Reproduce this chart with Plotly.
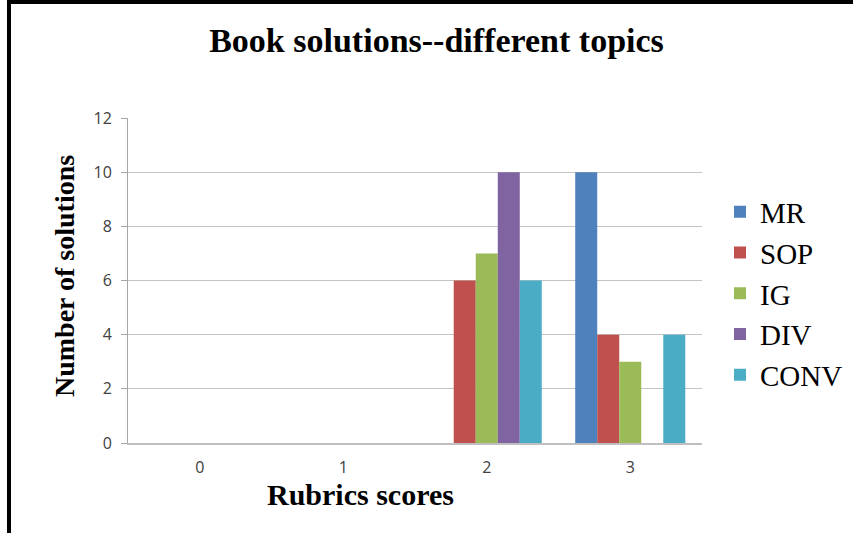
import plotly.graph_objects as go

categories = ["0", "1", "2", "3"]
MR = [0, 0, 0, 10]
SOP = [0, 0, 6, 4]
IG = [0, 0, 7, 3]
DIV = [0, 0, 10, 0]
CONV = [0, 0, 6, 4]
y_ticks = [0, 2, 4, 6, 8, 10, 12]

series = [
    ("MR", MR, "#4F81BD"),
    ("SOP", SOP, "#C0504D"),
    ("IG", IG, "#9BBB59"),
    ("DIV", DIV, "#8064A2"),
    ("CONV", CONV, "#4BACC6"),
]

fig = go.Figure()
for name, vals, col in series:
    fig.add_trace(go.Bar(
        x=categories, y=vals, name=name, legendgroup=name,
        marker=dict(color=col, line=dict(width=0)),
    ))

W, H = 853, 533
L, R, T, B = 128, 151, 118, 90
pw, ph = W - L - R, H - T - B

def px(x):
    return (x - L) / pw

def py(y):
    return (H - B - y) / ph

fig.update_layout(
    width=W, height=H,
    margin=dict(l=L, r=R, t=T, b=B, autoexpand=False),
    paper_bgcolor="white", plot_bgcolor="white",
    barmode="group", bargap=0.233, bargroupgap=0,
    title=dict(
        text="<b>Book solutions--different topics</b>",
        font=dict(family="Liberation Serif", size=34, color="black"),
        x=436.5 / W, xanchor="center", yref="container",
        y=(H - 40) / H, yanchor="middle",
    ),
    showlegend=True,
    legend=dict(
        x=px(720), xanchor="left", y=py(293.5), yanchor="middle",
        font=dict(family="Liberation Serif", size=29, color="black"),
        tracegroupgap=0, bgcolor="rgba(0,0,0,0)",
    ),
    xaxis=dict(
        type="category", range=[-0.5, 3.5],
        showgrid=False, showline=True, linecolor="#BFBFBF", linewidth=1.5,
        ticks="", ticklabelstandoff=9,
        tickfont=dict(family="Open Sans", size=16, color="#404040"),
    ),
    yaxis=dict(
        range=[0, 12], tickvals=y_ticks,
        showgrid=True, gridcolor="#C4C4C4", gridwidth=1.2,
        showline=True, linecolor="#A6A6A6", linewidth=1,
        ticks="outside", ticklen=6, tickcolor="#A6A6A6",
        ticklabelstandoff=6, zeroline=False,
        tickfont=dict(family="Open Sans", size=16, color="#404040"),
    ),
    annotations=[
        dict(text="<b>Rubrics scores</b>", xref="paper", yref="paper",
             x=px(360), y=py(494), xanchor="center", yanchor="middle",
             showarrow=False,
             font=dict(family="Liberation Serif", size=30, color="black")),
        dict(text="<b>Number of solutions</b>", xref="paper", yref="paper",
             x=px(64), y=py(276), xanchor="center", yanchor="middle",
             textangle=-90, showarrow=False,
             font=dict(family="Liberation Serif", size=28, color="black")),
    ],
    shapes=[
        dict(type="line", xref="paper", yref="paper",
             x0=px(9), x1=px(9), y0=py(0), y1=py(H),
             line=dict(color="black", width=4)),
        dict(type="line", xref="paper", yref="paper",
             x0=px(7), x1=px(W), y0=py(2), y1=py(2),
             line=dict(color="black", width=4)),
    ],
)

fig.write_html("out.html", config={"displayModeBar": False},
               post_script="document.body.style.margin='0';")
